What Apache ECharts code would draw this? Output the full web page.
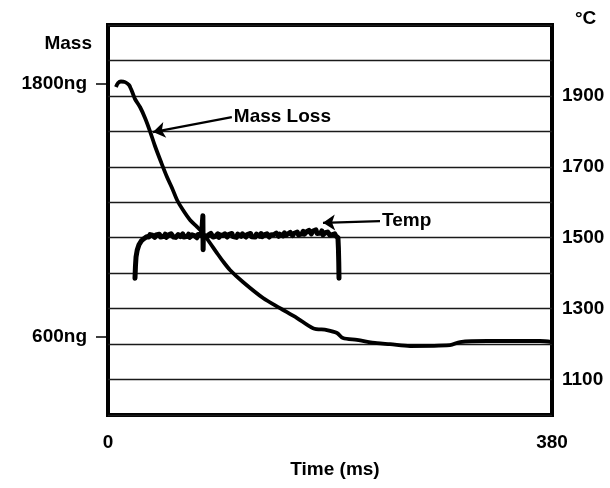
<!DOCTYPE html>
<html>
<head>
<meta charset="utf-8">
<script src="https://cdn.jsdelivr.net/npm/echarts@6/dist/echarts.min.js"></script>
<style>
  html, body { margin: 0; padding: 0; background: #fff; }
  #chart { width: 610px; height: 488px; }
</style>
</head>
<body>
<div id="chart"></div>
<script>
// Mass loss trace: time (ms) and mass (ng)
const massTime = [6.8, 8.6, 11.1, 14.6, 18.0, 19.7, 21.4, 23.1, 27.4, 31.7, 35.9, 40.2, 45.4, 50.5, 54.8, 59.1, 64.2, 70.2, 76.2, 80.5, 87.3, 93.3, 97.6, 104.4, 115.5, 132.7, 147.2, 161.8, 175.5, 187.4, 196.0, 201.1, 213.1, 230.2, 241.4, 258.5, 292.7, 301.3, 324.4, 344.1, 369.7, 380];
const massValue = [1786, 1805, 1812, 1809, 1795, 1776, 1753, 1729, 1691, 1639, 1577, 1506, 1430, 1359, 1307, 1250, 1202, 1155, 1122, 1098, 1046, 998, 965, 918, 861, 785, 737, 690, 642, 633, 619, 595, 586, 571, 566, 557, 561, 576, 581, 581, 581, 576];

// Temperature trace: time (ms) and temperature (°C)
const tempTime = [23.1, 23.5, 24.0, 25.0, 26.5, 28.5, 31, 33,
  35, 36, 37, 38, 40, 41, 42, 44, 45, 46, 48, 49, 50, 52, 53, 54, 56, 57, 58, 60, 61, 62, 64, 65, 66, 68, 69, 70,
  72, 73, 74, 76, 77, 78, 80,
  81.2, 81.4, 81.6,
  82, 83, 84, 86, 87, 88, 90, 91, 92, 94, 95, 96, 98, 99, 100, 102, 103, 104, 106, 107, 108, 110, 111, 112,
  114, 115, 116, 118, 119, 120, 122, 123, 124, 126, 127, 128, 130, 131, 132, 134, 135, 136, 138, 139, 140,
  142, 143, 144, 146, 147, 148, 150, 151, 152, 154, 155, 156, 158, 159, 160, 162, 163, 164, 166, 167, 168,
  170, 171, 172, 174, 175, 176, 178, 179, 180, 182, 183, 184, 186, 187, 188, 190, 191, 192, 194, 195, 196,
  196.8, 197.2, 197.5, 197.7];
const tempValue = [1386, 1420, 1446, 1465, 1480, 1491, 1498, 1503,
  1502, 1509, 1504, 1507, 1501, 1508, 1503, 1510, 1502, 1507, 1504, 1510, 1501, 1508, 1505, 1511, 1502, 1507, 1501, 1509, 1505, 1503, 1511, 1502, 1507, 1504, 1510, 1501,
  1508, 1503, 1506, 1500, 1509, 1505, 1507,
  1562, 1466, 1508,
  1504, 1510, 1502, 1508, 1505, 1512, 1502, 1507, 1504, 1511, 1501, 1508, 1506, 1503, 1511, 1502, 1509, 1505, 1512, 1503, 1507, 1501, 1510, 1506,
  1504, 1511, 1507, 1502, 1509, 1505, 1512, 1503, 1508, 1502, 1510, 1506, 1504, 1512, 1503, 1509, 1506, 1511, 1502, 1508, 1505,
  1509, 1506, 1513, 1504, 1510, 1507, 1505, 1514, 1507, 1511, 1508, 1515, 1506, 1512, 1509, 1516, 1508, 1513, 1511, 1518, 1510,
  1517, 1512, 1521, 1511, 1518, 1514, 1522, 1512, 1517, 1513, 1519, 1508, 1514, 1510, 1516, 1507, 1512, 1509, 1511, 1505, 1509,
  1500, 1470, 1430, 1386];

// Axis ticks and labels
const timeTicks = [0, 380];
const massTicks = [600, 1800];
const tempTicks = [1100, 1300, 1500, 1700, 1900];

// Callout arrows: [label, from (time, value), to (time, value)]
const massCallout = ['Mass Loss', [106, 1643], [38.5, 1572]];
const tempCallout = ['Temp', [232.8, 1547], [184.0, 1542]];

const FONT = 'Liberation Sans';
const textStyle = { color: '#000', fontFamily: FONT, fontWeight: 'bold', fontSize: 19 };
const plain = v => String(v);

function zip(xs, ys) { return xs.map((x, i) => [x, ys[i]]); }

function callout(c) {
  return {
    silent: true,
    animation: false,
    symbol: ['none', 'arrow'],
    symbolSize: 12,
    lineStyle: { color: '#000', width: 2.2, type: 'solid' },
    label: Object.assign({ show: true, position: 'start', distance: 2, formatter: c[0] }, textStyle),
    emphasis: { disabled: true },
    data: [[{ coord: c[1] }, { coord: c[2] }]]
  };
}

const chart = echarts.init(document.getElementById('chart'), null, { renderer: 'canvas' });
chart.setOption({
  backgroundColor: '#fff',
  animation: false,
  grid: {
    left: 108, right: 58, top: 25, bottom: 73,
    containLabel: false, outerBoundsMode: 'none',
    show: true, borderColor: '#000', borderWidth: 4, backgroundColor: 'transparent'
  },
  xAxis: {
    type: 'value', min: 0, max: 380,
    name: 'Time (ms)', nameLocation: 'middle', nameGap: 45,
    nameTextStyle: Object.assign({ padding: [0, 0, 0, 10] }, textStyle),
    axisLine: { show: false }, axisTick: { show: false }, splitLine: { show: false },
    axisLabel: Object.assign({ customValues: timeTicks, margin: 18, formatter: plain }, textStyle)
  },
  yAxis: [{
    type: 'value', min: 230, max: 2080, position: 'left',
    name: 'Mass', nameLocation: 'end', nameGap: -28,
    nameTextStyle: Object.assign({ align: 'right', padding: [0, 16, 0, 0] }, textStyle),
    axisLine: { show: false }, splitLine: { show: false },
    axisTick: { show: true, customValues: massTicks, length: 12, lineStyle: { color: '#000', width: 1.5 } },
    axisLabel: Object.assign({ customValues: massTicks, margin: 21, formatter: v => v + 'ng' }, textStyle)
  }, {
    type: 'value', min: 1000, max: 2100, interval: 100, position: 'right',
    name: '°C', nameLocation: 'end', nameGap: -3,
    nameTextStyle: Object.assign({ align: 'left', padding: [0, 0, 0, 23] }, textStyle),
    axisLine: { show: false }, axisTick: { show: false },
    splitLine: { show: true, lineStyle: { color: '#1a1a1a', width: 1.3 } },
    axisLabel: Object.assign({ customValues: tempTicks, margin: 10, formatter: plain }, textStyle)
  }],
  series: [{
    name: 'Mass Loss', type: 'line', xAxisIndex: 0, yAxisIndex: 0,
    data: zip(massTime, massValue), showSymbol: false, smooth: 0.3,
    lineStyle: { color: '#000', width: 3.8 }, silent: true,
    markLine: callout(massCallout)
  }, {
    name: 'Temp', type: 'line', xAxisIndex: 0, yAxisIndex: 1,
    data: zip(tempTime, tempValue), showSymbol: false,
    lineStyle: { color: '#000', width: 5, join: 'round', cap: 'round' }, silent: true,
    markLine: callout(tempCallout)
  }]
});
</script>
</body>
</html>
